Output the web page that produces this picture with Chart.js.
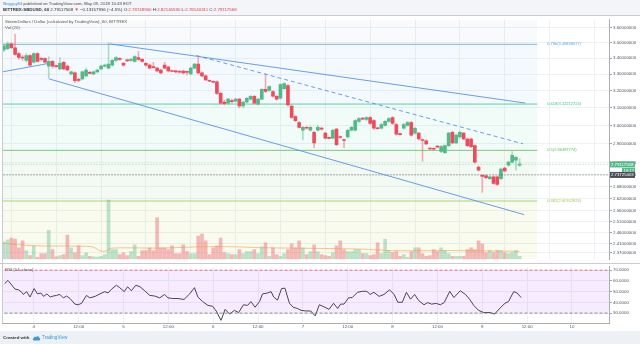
<!DOCTYPE html>
<html><head><meta charset="utf-8">
<script src="https://cdn.jsdelivr.net/npm/chart.js@4.4.1/dist/chart.umd.min.js"></script>
<style>
html,body{margin:0;padding:0}
body{width:640px;height:344px;position:relative;overflow:hidden;background:#edf0f5;font-family:"Liberation Sans",Arial,sans-serif}
.abs{position:absolute}
.t{position:absolute;white-space:nowrap;line-height:1}
</style></head><body>
<div class="abs" style="left:0;top:0;width:640px;height:15px;background:#f3f5f8"></div>
<div class="abs" style="left:0;top:15px;width:640px;height:316px;background:#fff"></div>
<canvas id="cPrice" class="abs" style="left:0;top:16px" width="640" height="247"></canvas>
<canvas id="cRsi" class="abs" style="left:0;top:263px" width="640" height="68"></canvas>
<div class="abs" style="left:0;top:15px;width:640px;height:1px;background:#c8cbd2"></div>
<div class="abs" style="left:0;top:263px;width:640px;height:1px;background:#c8cbd2"></div>
<div class="abs" style="left:2px;top:16px;width:1px;height:307px;background:#c8cbd2"></div>

<div class="t" style="left:3px;top:1.6px;font-size:4.3px;color:#444"><span style="color:#2e8fe0">Briggsy84</span> published on TradingView.com, May 09, 2018 10:43 EDT</div>
<div class="t" style="left:3px;top:7.6px;font-size:4.4px;color:#333"><b>BITTREX:SBDUSD, 60</b> 2.79117568 <span style="color:#e23a4a">▼</span> −0.13157956 (−4.5%) O:<span style="color:#e23a4a">2.78748900</span> H:<span style="color:#e23a4a">2.82146590</span> L:<span style="color:#e23a4a">2.78140311</span> C:<span style="color:#e23a4a">2.79117568</span></div>
<div class="t" style="left:5px;top:19.5px;font-size:4.3px;color:#555">SteemDollars / Dollar (calculated by TradingView), 60, BITTREX</div>
<div class="t" style="left:5px;top:26.2px;font-size:4.3px;color:#555">Vol (20)</div>
<div class="t" style="left:5px;top:268px;font-size:4.3px;color:#555">RSI (14, close)</div>
<div class="t" style="left:3px;top:335.6px;font-size:4.4px;color:#333;font-weight:bold">Created with</div>
<svg class="abs" style="left:32px;top:334.5px" width="9" height="6" viewBox="0 0 9 6"><path d="M2 5.5 C0.6 5.5 0.3 3.6 1.6 3.3 C1.6 1.8 3.3 1.2 4.1 2.2 C4.7 0.6 7.3 0.9 7.2 2.8 C8.7 3 8.6 5.5 7.1 5.5 Z" fill="#3d9ad8"/></svg>
<div class="t" style="left:42px;top:335.6px;font-size:4.6px;color:#3d9ad8">TradingView</div>

<script>
// ---- data (hour offsets relative to 2018-05-04 00:00) ----
const hours = [-8,-7,-6,-5,-4,-3,-2,-1,0,1,2,3,4,5,6,7,8,9,10,11,12,13,14,15,16,17,18,19,20,21,22,23,24,25,26,27,28,29,30,31,32,33,34,35,36,37,38,39,40,41,42,43,44,45,46,47,48,49,50,51,52,53,54,55,56,57,58,59,60,61,62,63,64,65,66,67,68,69,70,71,72,73,74,75,76,77,78,79,80,81,82,83,84,85,86,87,88,89,90,91,92,93,94,95,96,97,98,99,100,101,102,103,104,105,106,107,108,109,110,111,112,113,114,115,116,117,118,119,120,121,122,123,124,125,126,127,128,129,130];
const opens = [3.453,3.460,3.492,3.466,3.429,3.404,3.386,3.417,3.374,3.429,
3.398,3.398,3.350,3.380,3.350,3.332,3.374,3.350,3.302,3.308,
3.266,3.272,3.290,3.308,3.302,3.314,3.332,3.350,3.338,3.356,
3.386,3.398,3.368,3.386,3.386,3.380,3.404,3.392,3.368,3.356,
3.344,3.338,3.326,3.356,3.344,3.320,3.320,3.318,3.320,3.314,
3.302,3.338,3.362,3.308,3.290,3.260,3.254,3.254,3.185,3.134,
3.128,3.139,3.139,3.151,3.111,3.134,3.151,3.168,3.122,3.151,
3.208,3.202,3.196,3.168,3.156,3.213,3.231,3.111,3.050,3.017,
2.974,2.990,2.974,2.963,2.974,2.985,2.958,2.931,2.931,2.980,
2.937,2.921,2.937,2.974,2.974,3.023,3.039,3.034,3.045,3.028,
2.985,2.985,3.001,3.023,3.045,3.006,2.953,2.985,3.001,3.017,
2.958,2.958,2.921,2.916,2.874,2.874,2.885,2.859,2.853,2.890,
2.963,2.905,2.937,2.958,2.926,2.926,2.890,2.777,2.733,2.733,
2.718,2.728,2.728,2.718,2.772,2.787,2.803,2.813,2.787489];
const highs = [3.492,3.504,3.498,3.555,3.435,3.417,3.429,3.423,3.435,3.435,
3.404,3.404,3.410,3.386,3.356,3.404,3.380,3.356,3.320,3.314,
3.278,3.320,3.338,3.320,3.320,3.332,3.356,3.362,3.498,3.392,
3.410,3.404,3.374,3.392,3.398,3.417,3.441,3.398,3.374,3.362,
3.374,3.344,3.332,3.374,3.350,3.326,3.326,3.324,3.326,3.320,
3.344,3.368,3.404,3.314,3.296,3.266,3.260,3.260,3.191,3.145,
3.156,3.151,3.156,3.156,3.139,3.162,3.173,3.173,3.156,3.213,
3.302,3.231,3.202,3.173,3.243,3.248,3.237,3.117,3.056,3.023,
2.996,2.996,2.996,2.969,3.001,2.990,2.963,2.937,2.980,2.985,
2.942,2.926,2.980,2.996,3.034,3.045,3.045,3.050,3.050,3.034,
2.990,3.012,3.028,3.045,3.050,3.012,2.958,3.012,3.023,3.023,
2.990,2.963,2.926,2.921,2.879,2.879,2.890,2.890,2.895,2.963,
2.969,2.953,2.969,2.963,2.931,2.931,2.895,2.782,2.738,2.738,
2.733,2.733,2.733,2.772,2.777,2.808,2.859,2.833,2.8214659];
const lows = [3.441,3.453,3.460,3.417,3.392,3.386,3.374,3.350,3.368,3.374,
3.386,3.368,3.278,3.338,3.344,3.326,3.326,3.320,3.296,3.248,
3.254,3.266,3.284,3.302,3.296,3.308,3.326,3.344,3.332,3.350,
3.380,3.386,3.350,3.380,3.380,3.374,3.386,3.374,3.350,3.332,
3.338,3.314,3.302,3.332,3.314,3.314,3.308,3.306,3.302,3.296,
3.296,3.332,3.302,3.284,3.260,3.254,3.248,3.179,3.122,3.117,
3.122,3.128,3.134,3.100,3.100,3.128,3.145,3.122,3.117,3.145,
3.191,3.196,3.162,3.145,3.151,3.208,3.111,3.039,3.023,2.985,
2.921,2.980,2.969,2.879,2.969,2.974,2.926,2.926,2.926,2.890,
2.931,2.879,2.931,2.969,2.969,3.017,3.034,3.028,3.006,2.980,
2.980,2.980,2.996,3.017,3.006,2.947,2.947,2.980,2.996,2.942,
2.953,2.921,2.808,2.895,2.869,2.866,2.879,2.853,2.848,2.885,
2.900,2.900,2.931,2.921,2.885,2.879,2.797,2.757,2.650,2.718,
2.713,2.689,2.684,2.713,2.752,2.782,2.797,2.762,2.78140311];
const closes = [3.479,3.492,3.466,3.423,3.404,3.401,3.417,3.356,3.429,3.380,
3.392,3.374,3.380,3.350,3.347,3.368,3.332,3.326,3.314,3.260,
3.263,3.314,3.326,3.305,3.314,3.326,3.350,3.356,3.362,3.386,
3.404,3.392,3.356,3.383,3.392,3.410,3.392,3.380,3.356,3.338,
3.341,3.320,3.308,3.338,3.320,3.317,3.314,3.312,3.308,3.311,
3.338,3.362,3.308,3.290,3.266,3.257,3.251,3.185,3.128,3.125,
3.151,3.136,3.151,3.111,3.134,3.156,3.168,3.128,3.151,3.208,
3.196,3.225,3.168,3.151,3.237,3.243,3.117,3.045,3.028,2.990,
2.990,2.985,2.990,2.905,2.990,2.980,2.931,2.929,2.974,2.895,
2.934,2.918,2.974,2.990,3.028,3.039,3.036,3.045,3.012,2.985,
2.982,3.006,3.023,3.039,3.012,2.953,2.950,3.006,3.017,2.947,
2.985,2.926,2.918,2.900,2.872,2.871,2.882,2.885,2.890,2.958,
2.905,2.947,2.963,2.926,2.890,2.885,2.803,2.762,2.730,2.723,
2.728,2.694,2.689,2.767,2.757,2.803,2.838,2.828,2.79117568];
// volume, thousand SBD
const volumes = [18,20,22,21,12,19,9,4,14,2,
6,6,30,10,2.6,4,5,25,12,6.6,
14,4,6.6,3,2.7,2.3,3,5,61,10,
10,5,6.6,4,8,15,3,9,9,12,
9,43,12,12,10,14,6,6,15,8,
6,6,24,26,19,5,12,14,22,7,
6,5,5,10,6,8,8,10,6,13,
17,3,12,5,3,6,10,16,12,19,
12,5,8,15,8,5,4,3,7,14,
19,10,8,8,10,10,6,6,4,5,
17,6,21,9,7,8,3,5,2,8,
12,12,6,3,4,10,8,12,9,6,
3,3,3,3,10,12,10,19,16,7,
9,7,9,9,7,6,7,9,3];
const volMaHours = [-8.5,0.3,15.5,18,19.2,20.8,34,45,53,61,87.5,96,114,130];
const volMaValues = [16.6,14,13,8.5,8.5,11.6,11.6,13,13,12,10.6,9,9,8.3];
const rsiHours = [-7.8,-6.9,-5,-4.1,-3.2,-2.8,-1.9,-1,0.1,1,1.9,2.6,3.5,4.4,5.2,6.1,7,7.9,8.8,9.7,11,11.9,12.8,14.1,15,16.4,17.7,19,19.9,20.8,22.1,23,24.2,25.1,26.1,27.3,28.4,29.7,31,32.4,33.7,35,35.9,37.2,38.6,40.2,41.7,43,43.9,45.2,46.6,47.9,48.8,50.1,51.2,52.4,53.7,54.8,56.1,57.2,58.1,59.2,60.4,61.2,62.6,63.5,
64.2,65.2,66.3,67.2,68.4,69.4,70.6,71.5,72.8,74.1,75.3,76.4,77.7,79,80.2,81.3,82.1,83,84.2,85.2,86.6,87.9,89.1,90,91,92.4,93.7,95.2,96.4,97.4,98.6,99.7,100.8,101.9,103,104.4,105.4,106.4,107.7,108.8,109.8,111.3,112.4,114.1,115.5,116.6,117.7,119,120.4,122.1,123.3,124.8,126.1,127,128.4,129.3,130.4];
const rsiValues = [57.5,60.4,52.3,51.7,49.4,47.4,50.0,45.0,52.9,47.9,48.8,45.6,47.9,45.0,45.9,46.5,47.4,44.2,45.9,43.6,38.4,37.8,39.2,46.5,44.2,45.6,47.9,50.0,48.8,52.3,56.0,53.7,50.0,54.6,50.8,56.0,54.6,50.8,46.5,45.9,44.2,47.4,44.2,43.6,43.6,42.7,47.9,53.7,45.0,40.7,37.2,36.3,32.0,23.3,33.5,29.1,32.6,30.5,37.8,37.2,40.7,35.5,40.7,47.9,48.8,50.0,
45.0,42.1,52.9,53.2,39.2,35.5,34.3,32.6,32.0,32.0,27.4,37.8,35.8,33.5,39.2,34.3,38.4,38.4,44.2,44.5,49.4,50.3,50.3,47.4,49.4,45.6,47.4,51.7,47.4,40.1,40.1,49.4,43.0,47.4,41.6,37.8,39.8,38.4,39.0,37.8,39.8,50.3,44.5,50.8,47.4,43.0,37.2,32.6,30.5,30.5,29.1,34.9,39.2,40.7,50.0,48.8,44.5];
const fibRatios = ['1','0.786','0.618','0.5','0.382','0.236'];
const fibPrices = [3.95492,3.48838077,3.12212724,2.86487774,2.60762824,2.28934];
const fibStartHour = -12, fibEndHour = 134.7;
const upperChannelHours = [20.3,131.5], upperChannelPrices = [3.4914,3.128];
const lowerChannelHours = [4.0,131.2], lowerChannelPrices = [3.272,2.5425];
const dashedHours = [43.5,130.9], dashedPrices = [3.4167,2.900];
const leftLineHours = [-8.6,3.5], leftLinePrices = [3.3137,3.3648];
const priceTicks = [3.6,3.5,3.4,3.3,3.2,3.1,3.0,2.9,2.8,2.74,2.68,2.62,2.56,2.51,2.46,2.41,2.37];
const rsiTicks = [70,60,50,40,30];
const timeTicks = [0,12,24,36,48,60,72,84,96,108,120,132,144];
const timeTickLabels = ['4','12:00','5','12:00','6','12:00','7','12:00','8','12:00','9','12:00','10'];
const lastClose = 2.79117568, prevDayClose = 2.73725403, countdown = '16:17';

// ---- styling ----
Chart.defaults.font.family = '"Liberation Sans", Arial, sans-serif';
const UP='#53b987', DN='#eb4d5c';
const up = closes.map((c,i)=>c>=opens[i]);
const bodyCol = up.map(u=>u?UP:DN);
const wickCol = up.map(u=>u?'rgba(83,185,135,0.45)':'rgba(235,77,92,0.45)');
const volCol = up.map(u=>u?'rgba(83,185,135,0.38)':'rgba(235,77,92,0.38)');
const fibLineCol = ['#9e9e9e','#7ab8ea','#5fd2a8','#7cc97c','#b0d66e','#d0d0d0'];
const fibTextCol = ['#888','#5aa6e6','#3ec493','#5cbc5c','#9ccc50','#aaa'];
const fibFillCol = ['rgba(120,150,200,0.05)','rgba(100,170,240,0.07)','rgba(60,200,150,0.07)','rgba(90,190,90,0.07)','rgba(190,215,70,0.09)','rgba(0,0,0,0)'];
const X_MIN=-8.5, X_MAX=153.9;
const pts = (xs,ys)=>xs.map((x,i)=>({x:x,y:ys[i]}));
const tlBlue='rgba(80,140,232,0.85)';

const fibSets = fibPrices.map((p,i)=>({
  type:'line', data:[{x:fibStartHour,y:p},{x:fibEndHour,y:p}], yAxisID:'y',
  borderColor: fibLineCol[i], borderWidth:1, pointRadius:0,
  fill: i<fibPrices.length-1 ? '+1' : false, backgroundColor: fibFillCol[i], order:30
}));

const overlay = {
  id:'overlay',
  afterDatasetsDraw(chart){
    const c=chart.ctx, ys=chart.scales.y, xs=chart.scales.x;
    c.save();
    c.font='4px "Liberation Sans", Arial, sans-serif';
    c.textBaseline='middle';
    const x0 = xs.getPixelForValue(fibEndHour)+10;
    fibPrices.forEach((p,i)=>{
      if(i===0||i===5) return;
      c.fillStyle=fibTextCol[i];
      c.fillText(fibRatios[i]+'('+p.toFixed(8)+')', x0, ys.getPixelForValue(p));
    });
    c.restore();
  },
  afterDraw(chart){
    const c=chart.ctx, ys=chart.scales.y, r=chart.chartArea.right;
    c.save();
    c.font='4.3px "Liberation Sans", Arial, sans-serif';
    c.textBaseline='middle';
    let y=ys.getPixelForValue(lastClose);
    c.fillStyle=UP; c.fillRect(r+1,y-3,25,6);
    c.fillStyle='#fff'; c.fillText(lastClose.toFixed(8), r+2, y+0.3);
    c.fillStyle=UP; c.fillRect(r+13,y+3.5,13,5.5);
    c.fillStyle='#fff'; c.fillText(countdown, r+14.5, y+6.4);
    y=ys.getPixelForValue(prevDayClose);
    c.fillStyle='#4a4d55'; c.fillRect(r+1,y-3,25,6);
    c.fillStyle='#fff'; c.fillText(prevDayClose.toFixed(8), r+2, y+0.3);
    c.restore();
  }
};

new Chart(document.getElementById('cPrice'), {
  type:'bar',
  data:{ datasets:[
    ...fibSets,
    {type:'line', data:[{x:X_MIN-2,y:lastClose},{x:X_MAX+2,y:lastClose}], yAxisID:'y', borderColor:'rgba(83,185,135,0.55)', borderWidth:1, borderDash:[1,2], pointRadius:0, order:4},
    {type:'line', data:[{x:X_MIN-2,y:prevDayClose},{x:X_MAX+2,y:prevDayClose}], yAxisID:'y', borderColor:'rgba(60,60,60,0.75)', borderWidth:1, borderDash:[1,2], pointRadius:0, order:4},
    {type:'bar', data:hours.map((h,i)=>({x:h,y:volumes[i]})), yAxisID:'yv', backgroundColor:volCol, barThickness:3, grouped:false, order:12},
    {type:'line', data:pts(volMaHours,volMaValues), yAxisID:'yv', borderColor:'rgba(245,150,60,0.55)', borderWidth:1, pointRadius:0, tension:0.3, order:11},
    {type:'bar', data:hours.map((h,i)=>({x:h,y:[lows[i],highs[i]]})), yAxisID:'y', backgroundColor:wickCol, barThickness:1, grouped:false, order:6},
    {type:'bar', data:hours.map((h,i)=>({x:h,y:[opens[i],closes[i]]})), yAxisID:'y', backgroundColor:bodyCol, barThickness:3, minBarLength:1, grouped:false, order:5},
    {type:'line', data:pts(upperChannelHours,upperChannelPrices), yAxisID:'y', borderColor:tlBlue, borderWidth:1, pointRadius:0, order:1},
    {type:'line', data:pts(lowerChannelHours,lowerChannelPrices), yAxisID:'y', borderColor:tlBlue, borderWidth:1, pointRadius:0, order:1},
    {type:'line', data:pts(leftLineHours,leftLinePrices), yAxisID:'y', borderColor:tlBlue, borderWidth:1, pointRadius:0, order:1},
    {type:'line', data:pts(dashedHours,dashedPrices), yAxisID:'y', borderColor:tlBlue, borderWidth:1, borderDash:[4,3], pointRadius:0, order:1}
  ]},
  options:{
    responsive:false, animation:false, devicePixelRatio:1,
    layout:{padding:{left:2,right:0,top:0,bottom:0}},
    plugins:{legend:{display:false}, tooltip:{enabled:false}},
    scales:{
      x:{type:'linear', min:X_MIN, max:X_MAX, offset:false,
         afterBuildTicks:s=>{s.ticks=timeTicks.map(v=>({value:v}));},
         afterFit:s=>{s.height=0;},
         ticks:{display:false}, grid:{color:'#eef1f5', drawTicks:false}, border:{display:false}},
      y:{type:'logarithmic', position:'right', min:2.340, max:3.652,
         afterBuildTicks:s=>{s.ticks=priceTicks.map(v=>({value:v}));},
         afterFit:s=>{s.width=31;},
         ticks:{callback:v=>Number(v).toFixed(8), font:{size:4.4}, color:'#4e5564', padding:1, autoSkip:false},
         grid:{color:'#eef1f5', tickLength:3, tickColor:'#a0a4ac'},
         border:{display:true, color:'#a9adb5'}},
      yv:{type:'linear', display:false, min:0, max:247, position:'left'}
    }
  },
  plugins:[overlay]
});

new Chart(document.getElementById('cRsi'), {
  type:'line',
  data:{ datasets:[
    {data:[{x:X_MIN-2,y:70},{x:X_MAX+2,y:70}], borderColor:'rgba(240,85,95,0.85)', borderDash:[3,2], borderWidth:1, pointRadius:0, fill:'+1', backgroundColor:'rgba(153,21,255,0.085)'},
    {data:[{x:X_MIN-2,y:30},{x:X_MAX+2,y:30}], borderColor:'rgba(105,140,100,0.85)', borderDash:[3,2], borderWidth:1, pointRadius:0, fill:false},
    {data:pts(rsiHours,rsiValues), borderColor:'#454545', borderWidth:1, pointRadius:0, fill:false}
  ]},
  options:{
    responsive:false, animation:false, devicePixelRatio:1,
    layout:{padding:{left:2,right:0,top:0,bottom:0}},
    plugins:{legend:{display:false}, tooltip:{enabled:false}},
    scales:{
      x:{type:'linear', min:X_MIN, max:X_MAX, offset:false,
         afterBuildTicks:s=>{s.ticks=timeTicks.map(v=>({value:v}));},
         afterFit:s=>{s.height=8;},
         ticks:{callback:(v,i)=>timeTickLabels[timeTicks.indexOf(v)], font:{size:4.4}, color:'#4e5564', padding:1, maxRotation:0, autoSkip:false},
         grid:{color:'#eef1f5', drawTicks:false}, border:{display:true, color:'#a9adb5'}},
      y:{type:'linear', position:'right', min:20.8, max:73.3,
         afterBuildTicks:s=>{s.ticks=rsiTicks.map(v=>({value:v}));},
         afterFit:s=>{s.width=31;},
         ticks:{callback:v=>Number(v).toFixed(4), font:{size:4.4}, color:'#4e5564', padding:1, autoSkip:false},
         grid:{color:'#eef1f5', tickLength:3, tickColor:'#a0a4ac'},
         border:{display:true, color:'#a9adb5'}}
    }
  }
});
</script>
</body></html>
